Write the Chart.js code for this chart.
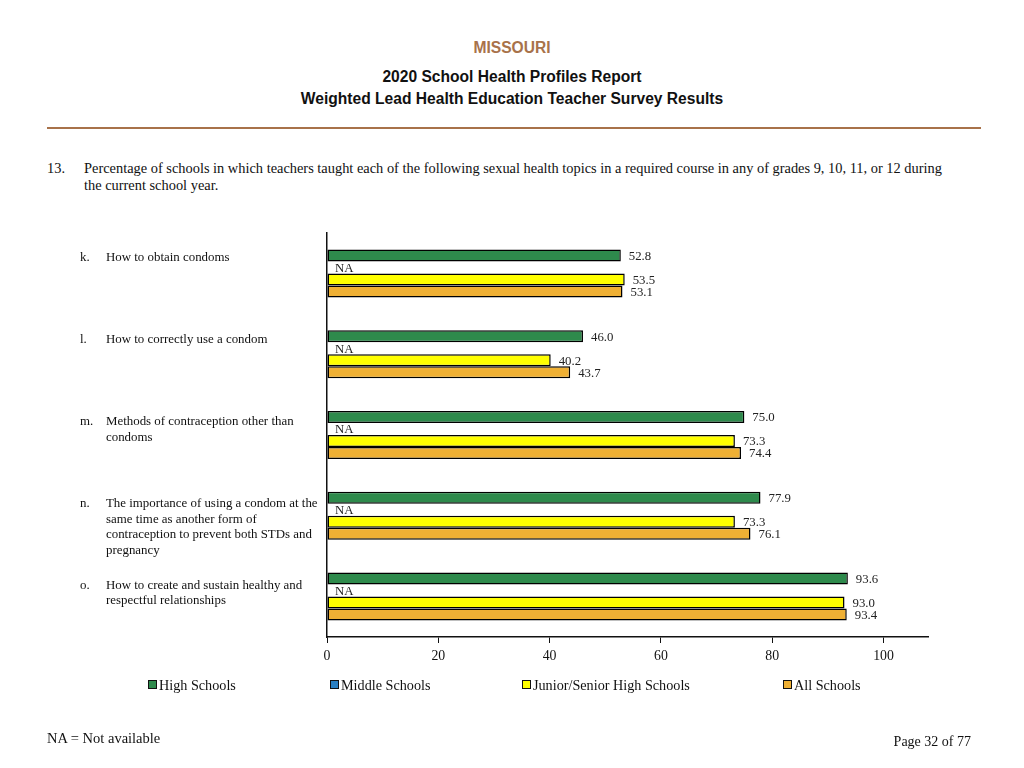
<!DOCTYPE html>
<html>
<head>
<meta charset="utf-8">
<script src="https://cdn.jsdelivr.net/npm/chart.js@4/dist/chart.umd.min.js"></script>
<style>
  html, body { margin: 0; padding: 0; background: #fff; }
  #page { position: relative; width: 1024px; height: 768px; overflow: hidden; font-family: "Liberation Serif", "Times New Roman", serif; color: #111; }
  #chart { position: absolute; left: 0; top: 0; }
  .hdr { position: absolute; left: 0; width: 1024px; text-align: center; font-family: "Liberation Sans", Arial, sans-serif; font-weight: bold; font-size: 15.6px; }
  .rule { position: absolute; left: 47px; width: 934px; top: 127px; height: 2px; background: #a8724a; }
  .abs { position: absolute; white-space: nowrap; }
  .cat { position: absolute; font-size: 12.9px; line-height: 15.8px; }
  .cat .ltr { position: absolute; left: 0; }
  .cat .txt { position: absolute; left: 26px; white-space: nowrap; }
  .leg { position: absolute; top: 677px; font-size: 14.2px; line-height: 16px; white-space: nowrap; }
  .leg i { display: inline-block; width: 7px; height: 7px; border: 1px solid #111; margin-right: 2px; vertical-align: 1px; }
</style>
</head>
<body>
<div id="page">
  <div class="hdr" style="top:39px;color:#a8724a;">MISSOURI</div>
  <div class="hdr" style="top:68px;">2020 School Health Profiles Report</div>
  <div class="hdr" style="top:90px;">Weighted Lead Health Education Teacher Survey Results</div>
  <div class="rule"></div>

  <div class="abs" style="left:47px;top:160px;font-size:14.4px;">13.</div>
  <div class="abs" style="left:84px;top:160px;font-size:14.4px;line-height:16.5px;">Percentage of schools in which teachers taught each of the following sexual health topics in a required course in any of grades 9, 10, 11, or 12 during<br>the current school year.</div>

  <canvas id="chart" width="1024" height="768"></canvas>
  <div id="cats"></div>
  <div id="legend"></div>

  <div class="abs" style="left:47px;top:730px;font-size:14.5px;">NA = Not available</div>
  <div class="abs" style="right:53px;top:734px;font-size:14px;">Page 32 of 77</div>
</div>
<script>
// ── Data ─────────────────────────────────────────────────────────
const letters = ['k.', 'l.', 'm.', 'n.', 'o.'];
const categoryLines = [
  ['How to obtain condoms'],
  ['How to correctly use a condom'],
  ['Methods of contraception other than', 'condoms'],
  ['The importance of using a condom at the', 'same time as another form of', 'contraception to prevent both STDs and', 'pregnancy'],
  ['How to create and sustain healthy and', 'respectful relationships'],
];
const seriesNames  = ['High Schools', 'Middle Schools', 'Junior/Senior High Schools', 'All Schools'];
const seriesColors = ['#2e8a4c', '#2a7fc1', '#ffff00', '#efb034'];
const highSchools   = [52.8, 46.0, 75.0, 77.9, 93.6];
const middleSchools = [null, null, null, null, null];
const juniorSenior  = [53.5, 40.2, 73.3, 73.3, 93.0];
const allSchools    = [53.1, 43.7, 74.4, 76.1, 93.4];
const xTicks = [0, 20, 40, 60, 80, 100];

const SERIF = '"Liberation Serif", "Times New Roman", serif';

// ── Value / NA labels next to bars ───────────────────────────────
const valueLabels = {
  id: 'valueLabels',
  afterDatasetsDraw(chart) {
    const ctx = chart.ctx;
    const x0 = chart.scales.x.getPixelForValue(0);
    ctx.save();
    ctx.font = '12.8px ' + SERIF;
    ctx.fillStyle = '#222';
    ctx.textBaseline = 'middle';
    ctx.textAlign = 'left';
    chart.data.datasets.forEach((ds, di) => {
      const meta = chart.getDatasetMeta(di);
      meta.data.forEach((bar, i) => {
        const v = ds.data[i];
        if (v === null) ctx.fillText('NA', x0 + 8, bar.y + 1);
        else ctx.fillText(v.toFixed(1), bar.x + 8, bar.y + 1);
      });
    });
    ctx.restore();
  },
};

// ── Category labels as HTML, placed from the y scale ─────────────
const categoryLabels = {
  id: 'categoryLabels',
  afterDraw(chart) {
    const y = chart.scales.y;
    const box = document.getElementById('cats');
    box.innerHTML = '';
    categoryLines.forEach((lines, i) => {
      const groupTop = y.getPixelForValue(i) - 24;
      const d = document.createElement('div');
      d.className = 'cat';
      d.style.left = '80px';
      d.style.top = (groupTop + 1 + i) + 'px';
      d.innerHTML = '<span class="ltr">' + letters[i] + '</span><span class="txt">' + lines.join('<br>') + '</span>';
      box.appendChild(d);
    });
  },
};

new Chart(document.getElementById('chart'), {
  type: 'bar',
  data: {
    labels: categoryLines.map(l => l.join(' ')),
    datasets: [highSchools, middleSchools, juniorSenior, allSchools].map((data, i) => ({
      label: seriesNames[i],
      data,
      backgroundColor: seriesColors[i],
      borderColor: '#000',
      borderWidth: 1.5,
      borderSkipped: false,
      categoryPercentage: 0.594,
      barPercentage: 1.0,
    })),
  },
  plugins: [valueLabels, categoryLabels],
  options: {
    indexAxis: 'y',
    responsive: false,
    animation: false,
    layout: { padding: { left: 327, right: 96, top: 233, bottom: 0 } },
    plugins: { legend: { display: false }, tooltip: { enabled: false } },
    scales: {
      x: {
        min: 0,
        max: 108,
        afterBuildTicks: axis => { axis.ticks = xTicks.map(v => ({ value: v })); },
        afterFit: axis => { axis.height = 131; },
        grid: { display: true, drawOnChartArea: false, drawTicks: true, tickLength: 6, color: '#111' },
        border: { display: true, color: '#111', width: 1.5 },
        ticks: { color: '#111', font: { family: SERIF, size: 13.8 }, padding: 5, maxRotation: 0 },
      },
      y: {
        afterFit: axis => { axis.width = 0; },
        grid: { display: false },
        border: { display: true, color: '#111', width: 1.5 },
        ticks: { display: false },
      },
    },
  },
});

// ── Legend ───────────────────────────────────────────────────────
const legendLeft = [148, 330, 522, 783];
document.getElementById('legend').innerHTML = seriesNames.map((n, i) =>
  '<div class="leg" style="left:' + legendLeft[i] + 'px"><i style="background:' + seriesColors[i] + '"></i>' + n + '</div>'
).join('');
</script>
</body>
</html>
